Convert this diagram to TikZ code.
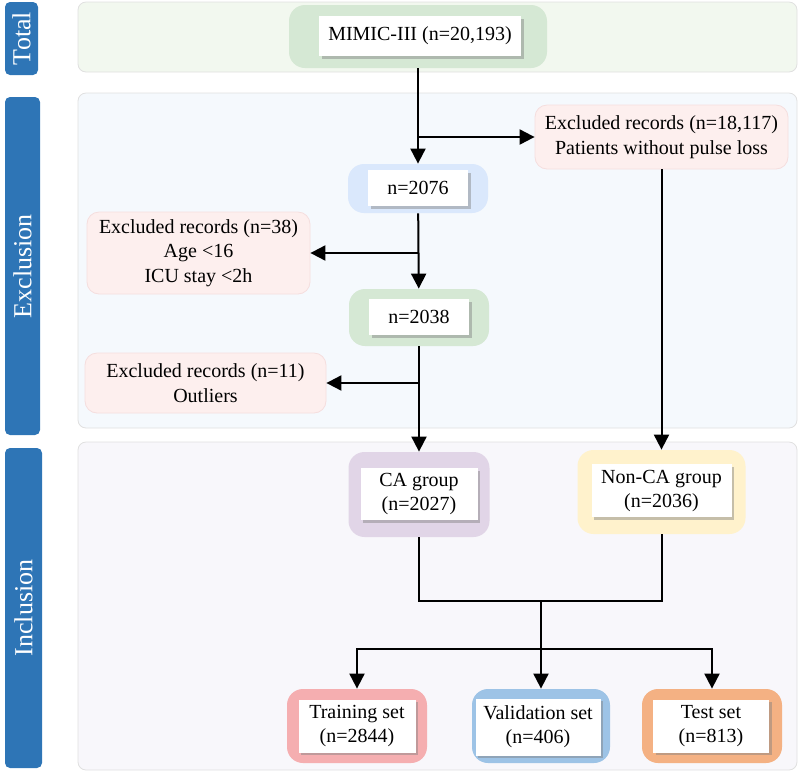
\documentclass[tikz,border=0pt]{standalone}
\usepackage{fontspec}
\setmainfont{Liberation Serif}
\usepackage{tikz}
\usetikzlibrary{calc,shadows}
\usetikzlibrary{positioning}
\usetikzlibrary{arrows.meta}

\definecolor{tagblue}{HTML}{2E75B6}
\definecolor{totalfill}{HTML}{F2F8EF}
\definecolor{exclpanel}{HTML}{F5F9FD}
\definecolor{inclpanel}{HTML}{F8F7FB}
\definecolor{greenbox}{HTML}{D5E8D4}
\definecolor{bluebox}{HTML}{DAE8FC}
\definecolor{exclfill}{HTML}{FDEFEE}
\definecolor{exclline}{HTML}{F5DEDE}
\definecolor{purplebox}{HTML}{E1D5E7}
\definecolor{yellowbox}{HTML}{FFF2CC}
\definecolor{trainbox}{HTML}{F5AEB0}
\definecolor{validbox}{HTML}{9DC3E6}
\definecolor{testbox}{HTML}{F4B183}

\begin{document}
\begin{tikzpicture}[x=0.5pt, y=-0.5pt,
    panel/.style={draw=black!12, rounded corners=4pt, line width=0.4pt},
    tagbox/.style={fill=tagblue, rounded corners=2.5pt, rotate=90, text=white, inner sep=0pt, font=\fontsize{13}{15}\selectfont},
    outerbox/.style={rounded corners=8pt, inner sep=0pt},
    whitebox/.style={fill=white, drop shadow={opacity=0.45, shadow xshift=1.3pt, shadow yshift=-1.3pt}, align=center, inner sep=0pt, font=\fontsize{10}{12}\selectfont},
    exclbox/.style={draw=exclline, fill=exclfill, rounded corners=6pt, align=center, inner sep=0pt, font=\fontsize{10}{12.3}\selectfont},
    arr/.style={-{Triangle[length=7.5pt,width=7.5pt]}, line width=1pt},
    link/.style={line width=1pt}]
    \useasboundingbox (0,0) rectangle (800,773);

    % panels and side tags
    \draw[panel, fill=totalfill] (78,2) rectangle (797,72);
    \draw[panel, fill=exclpanel] (78,93) rectangle (797,428);
    \draw[panel, fill=inclpanel] (78,442) rectangle (797,770);
    \node[tagbox, minimum width=36.5pt, minimum height=16.5pt] (tagTotal) at (21.5,38.5) {Total};
    \node[tagbox, minimum width=169pt, minimum height=17.5pt] (tagExcl) at (22.5,266) {Exclusion};
    \node[tagbox, minimum width=160pt, minimum height=18.5pt] (tagIncl) at (23.5,608) {Inclusion};

    % flow boxes
    \node[outerbox, fill=greenbox, minimum width=129pt, minimum height=31.5pt] (mimic) at (418,36.5) {};
    \node[whitebox, minimum width=101pt, minimum height=20pt] (mimicT) at (420,36) {MIMIC-III (n=20,193)};
    \node[exclbox, minimum width=126.5pt, minimum height=32pt] (exclA) at (661.5,137) {Excluded records (n=18,117)\\Patients without pulse loss};
    \node[outerbox, fill=bluebox, minimum width=70pt, minimum height=24.5pt] (countA) at (418,188.5) {};
    \node[whitebox, minimum width=50pt, minimum height=18pt] (countAT) at (418,188) {n=2076};
    \node[exclbox, minimum width=111.5pt, minimum height=41pt] (exclB) at (198.5,253) {Excluded records (n=38)\\Age <16\\ICU stay <2h};
    \node[outerbox, fill=greenbox, minimum width=70pt, minimum height=28.5pt] (countB) at (419,317.5) {};
    \node[whitebox, minimum width=50pt, minimum height=18pt] (countBT) at (419,317) {n=2038};
    \node[exclbox, minimum width=120.5pt, minimum height=30pt] (exclC) at (205.5,383) {Excluded records (n=11)\\Outliers};
    \node[outerbox, fill=purplebox, minimum width=70.5pt, minimum height=42.5pt] (caGroup) at (419,494.5) {};
    \node[whitebox, minimum width=58.5pt, minimum height=26pt] (caGroupT) at (419,494) {CA group\\(n=2027)};
    \node[outerbox, fill=yellowbox, minimum width=84pt, minimum height=42pt] (noncaGroup) at (661.5,492) {};
    \node[whitebox, minimum width=70pt, minimum height=26.5pt] (noncaGroupT) at (661.5,490.5) {Non-CA group\\(n=2036)};
    \node[outerbox, fill=trainbox, minimum width=70pt, minimum height=37pt] (trainSet) at (357,726) {};
    \node[whitebox, minimum width=58.5pt, minimum height=26.5pt] (trainSetT) at (357,726) {Training set\\(n=2844)};
    \node[outerbox, fill=validbox, minimum width=69pt, minimum height=37pt] (validSet) at (541,726) {};
    \node[whitebox, minimum width=62.5pt, minimum height=28.5pt] (validSetT) at (538,727) {Validation set\\(n=406)};
    \node[outerbox, fill=testbox, minimum width=70pt, minimum height=37pt] (testSet) at (712,726) {};
    \node[whitebox, minimum width=58pt, minimum height=26.5pt] (testSetT) at (711,726) {Test set\\(n=813)};

    % connectors
    \coordinate (merge) at (541,601);
    \coordinate (split) at (541,649);
    \draw[arr] (mimic) -- (countA);
    \draw[arr] (mimic.south |- exclA.west) -- (exclA.west);
    \draw[arr] (exclA) -- (noncaGroup);
    \draw[arr] (countA) -- (countB);
    \draw[arr] (countA.south |- exclB.east) -- (exclB.east);
    \draw[arr] (countB) -- (caGroup);
    \draw[arr] (countB.south |- exclC.east) -- (exclC.east);
    \draw[link] (caGroup.south) |- (merge);
    \draw[link] (noncaGroup.south) |- (merge);
    \draw[link] (merge) -- (split);
    \draw[arr] (split) -| (trainSet.north);
    \draw[arr] (split) -| (testSet.north);
    \draw[arr] (split) -- (validSet);
\end{tikzpicture}
\end{document}
